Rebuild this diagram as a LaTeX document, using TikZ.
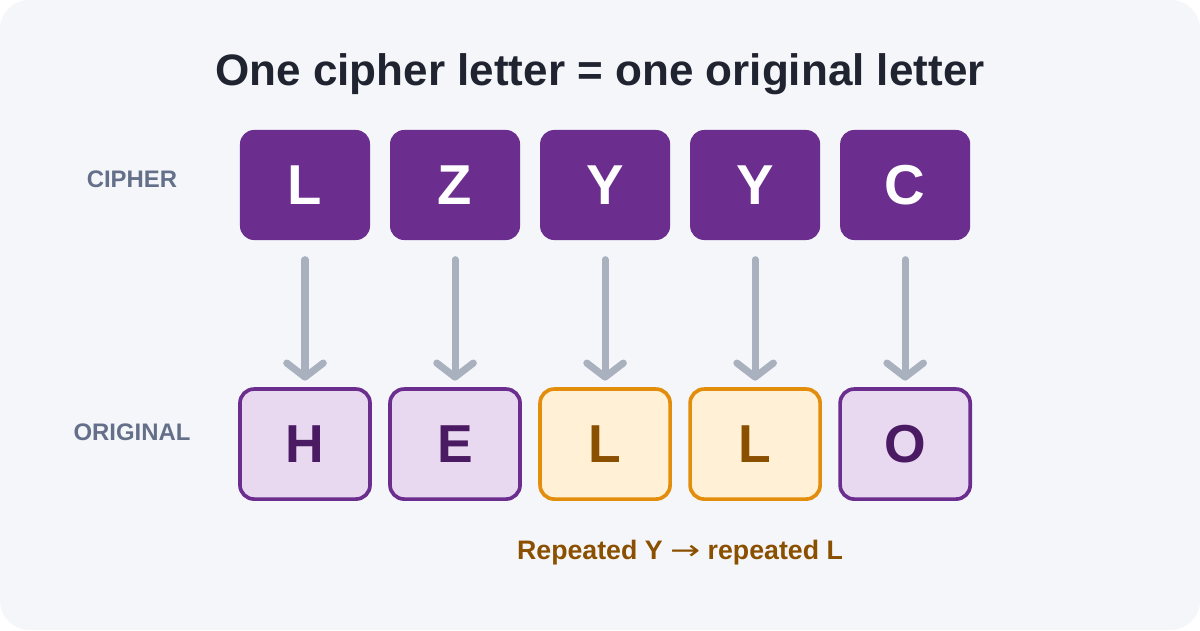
\documentclass[tikz,border=0pt]{standalone}
\usepackage{fontspec}
\setmainfont{Liberation Sans}
\newfontfamily\arrowfont{DejaVu Sans}
\usepackage{xcolor}
\usetikzlibrary{arrows.meta,positioning}

\definecolor{panelbg}{HTML}{F5F6FA}
\definecolor{titlefg}{HTML}{1F2430}
\definecolor{cipherfill}{HTML}{6B2D8E}
\definecolor{origfill}{HTML}{E8D8F0}
\definecolor{origtext}{HTML}{4A1A62}
\definecolor{repborder}{HTML}{E38D0C}
\definecolor{repfill}{HTML}{FFF0D6}
\definecolor{reptext}{HTML}{8A5000}
\definecolor{arrowgray}{HTML}{A9B1BE}
\definecolor{rowlabel}{HTML}{64708A}

\begin{document}
\begin{tikzpicture}[
        x=0.025cm, y=-0.025cm,
        cipherbox/.style={fill=cipherfill, rounded corners=10pt, minimum width=3.25cm,
            minimum height=2.75cm, inner sep=0pt, outer sep=0pt, text=white,
            font=\bfseries\fontsize{40}{44}\selectfont},
        origbox/.style={draw=cipherfill, fill=origfill, line width=2.6pt, rounded corners=10pt,
            minimum width=3.25cm, minimum height=2.75cm, inner sep=0pt, outer sep=0pt,
            text=origtext, font=\bfseries\fontsize{38}{42}\selectfont},
        repbox/.style={origbox, draw=repborder, fill=repfill, text=reptext},
        rowname/.style={text=rowlabel, font=\bfseries\fontsize{17}{20}\selectfont},
        maparrow/.style={draw=arrowgray, line width=5pt, line cap=round,
            -{Straight Barb[length=10pt, width=26pt, round]},
            shorten <=14pt, shorten >=6pt}]

    % panel
    \useasboundingbox (0,0) rectangle (1200,630);
    \fill[white] (0,0) rectangle (1200,630);
    \fill[panelbg, rounded corners=21pt] (0,0) rectangle (1200,630);

    \node[anchor=base, text=titlefg, font=\bfseries\fontsize{31.3}{36}\selectfont] (title) at (600,86)
        {One cipher letter = one original letter};

    % cipher row
    \node[cipherbox] (c1) at (305,185) {L};
    \node[cipherbox, right=0.5cm of c1] (c2) {Z};
    \node[cipherbox, right=0.5cm of c2] (c3) {Y};
    \node[cipherbox, right=0.5cm of c3] (c4) {Y};
    \node[cipherbox, right=0.5cm of c4] (c5) {C};

    % original row
    \node[origbox, below=3.725cm of c1] (o1) {H};
    \node[origbox, below=3.725cm of c2] (o2) {E};
    \node[repbox, below=3.725cm of c3] (o3) {L};
    \node[repbox, below=3.725cm of c4] (o4) {L};
    \node[origbox, below=3.725cm of c5] (o5) {O};

    \node[rowname] (ciphername) at (132,179) {CIPHER};
    \node[rowname] (origname) at (132,432) {ORIGINAL};

    \foreach \i in {1,...,5}
        \draw[maparrow] (c\i.south) -- (o\i.north);

    \node[anchor=base, text=reptext, font=\bfseries\fontsize{19}{22}\selectfont] (repnote) at (680,559)
        {Repeated Y {\arrowfont\mdseries\scalebox{1.35}[1]{→}} repeated L};
\end{tikzpicture}
\end{document}
